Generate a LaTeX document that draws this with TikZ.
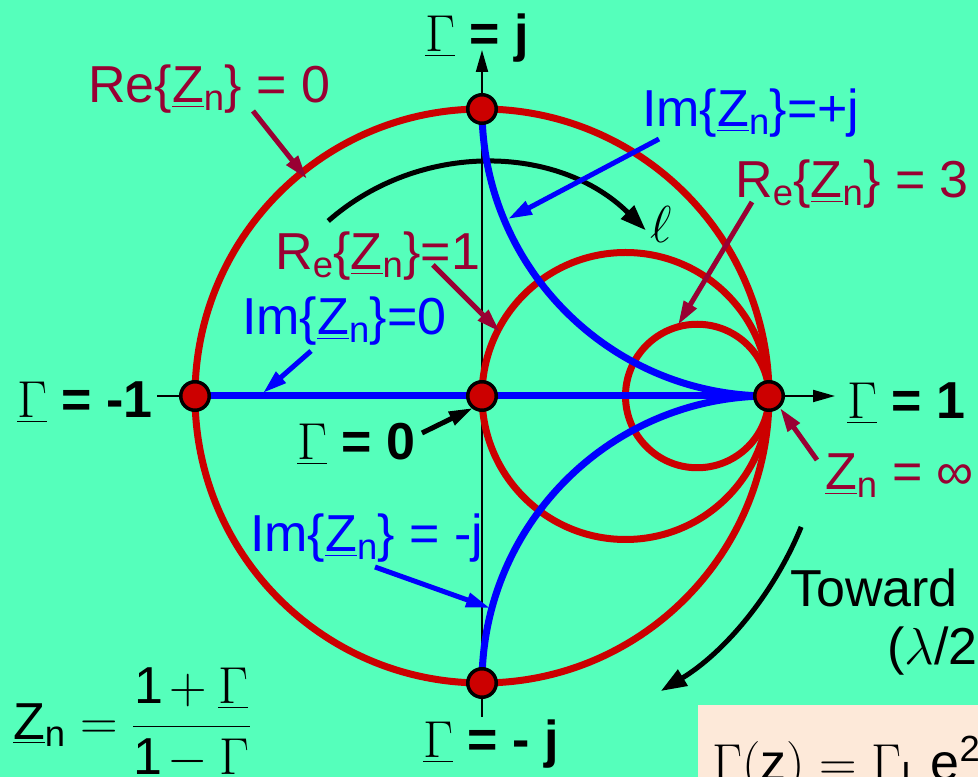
\documentclass[tikz,border=0pt]{standalone}
\usepackage{fix-cm}
\usepackage{amsmath}
\usepackage{fontspec}
\setmainfont{Liberation Sans}
\usepackage{tikz}
\usetikzlibrary{arrows.meta,calc}
\definecolor{smbg}{RGB}{85,255,187}
\definecolor{smred}{RGB}{204,0,0}
\definecolor{smwine}{RGB}{153,0,51}
\definecolor{smblue}{RGB}{0,0,255}
\definecolor{smpeach}{RGB}{253,233,217}
\newcommand{\Zn}{\underline{Z}\textsubscript{n}}
\newcommand{\Gu}{$\underline{\Gamma}$}
\tikzset{
  rcirc/.style={draw=smred, line width=7pt},
  xarc/.style={draw=smblue, line width=7pt},
  dot/.style={circle, fill=smred, draw=black, line width=3.5pt,
    minimum size=28.5pt, inner sep=0pt},
  axis/.style={draw=black, line width=2pt},
  axarr/.style={axis, -{Triangle[length=22pt,width=12pt]}},
  larr/.style={draw=black, line width=5pt, -{Triangle[length=26pt,width=18pt]}},
  pin/.style={line width=5pt, -{Triangle[length=24pt,width=14pt]}},
  lbl/.style={font=\fontsize{52}{60}\selectfont, inner sep=0pt, anchor=base west},
  wine/.style={lbl, text=smwine},
  blu/.style={lbl, text=smblue}
}
\begin{document}
\begin{tikzpicture}[x=1pt,y=1pt]
  \clip (0,0) rectangle (978,777);
  \fill[smbg] (0,0) rectangle (978,777);
  \coordinate (O) at (482,381);
  % axes
  \coordinate (axb) at (482,60);
  \coordinate (axt) at (482,727);
  \coordinate (axl) at (157,381);
  \coordinate (axr) at (835,381);
  \draw[axarr] (axb) -- (axt);
  \draw[axarr] (axl) -- (axr);
  % rotation arcs
  \draw[larr] ($(O)+(131.3:233)$) arc[start angle=131.3, end angle=45.3, radius=233];
  \draw[larr] ($(O)+(-22.3:345)$) arc[start angle=-22.3, end angle=-58.8, radius=345];
  % resistance circles
  \draw[rcirc] (O) circle[radius=287];
  \draw[rcirc] ($(O)+(143.5,0)$) circle[radius=143.5];
  \draw[rcirc] ($(O)+(215.25,0)$) circle[radius=71.75];
  % reactance arcs
  \draw[xarc] ($(O)+(-287,0)$) -- ($(O)+(287,0)$);
  \draw[xarc] ($(O)+(0,287)$) arc[start angle=180, end angle=270, radius=287];
  \draw[xarc] ($(O)+(0,-287)$) arc[start angle=180, end angle=90, radius=287];
  % points
  \node[dot] (gm1) at ($(O)+(-287,0)$) {};
  \node[dot] (g0) at (O) {};
  \node[dot] (g1) at ($(O)+(287,0)$) {};
  \node[dot] (gj) at ($(O)+(0,287)$) {};
  \node[dot] (gmj) at ($(O)+(0,-287)$) {};
  % labels
  \node[lbl] (lj) at (425,725) {\Gu{} \textbf{= j}};
  \node[lbl] (lmj) at (423,19) {\Gu{} \textbf{= - j}};
  \node[lbl] (lm1) at (17,359) {\Gu{} \textbf{= -1}};
  \node[lbl] (lp1) at (847,358) {\Gu{} \textbf{= 1}};
  \node[lbl] (l0) at (297,317) {\Gu{} \textbf{= 0}};
  \node[wine] (re0) at (88,674) {Re\{\Zn\} = 0};
  \node[blu] (imp) at (642,650) {Im\{\Zn\}=+j};
  \node[wine] (re3) at (735,579) {R\textsubscript{e}\{\Zn\} = 3};
  \node[wine] (re1) at (275,507) {R\textsubscript{e}\{\Zn\}=1};
  \node[blu] (im0) at (242,442) {Im\{\Zn\}=0};
  \node[blu] (imm) at (250,225) {Im\{\Zn\} = -j};
  \node[wine] (zinf) at (825,287) {\Zn{} = ∞};
  \node[lbl] (ell) at (650,534) {$\ell$};
  \node[lbl] (tow) at (790,170) {Toward};
  \node[lbl] (lam) at (887,112) {($\lambda$/2};
  \node[lbl, anchor=west] (zform) at (13,53)
    {$\displaystyle \underline{\text{Z}}_{\text{n}} = \frac{\text{1}\mkern2mu{+}\mkern4mu\underline{\Gamma}}{\text{1}\mkern2mu{-}\mkern4mu\underline{\Gamma}}$};
  \fill[smpeach] (698,0) rectangle (978,72);
  \node[lbl] (gz) at (712,-3) {$\Gamma(\text{z}) = \Gamma_{\text{L}}\,\text{e}^{\text{2}}$};
  % pointers
  \coordinate (p0s) at (253,666);  \coordinate (p0e) at (307,598);
  \coordinate (pjs) at (659,638);  \coordinate (pje) at (508,558);
  \coordinate (p3s) at (752,575);  \coordinate (p3e) at (678,452);
  \coordinate (p1s) at (433,512);  \coordinate (p1e) at (500,445);
  \coordinate (pis) at (311,426);  \coordinate (pie) at (263,384);
  \coordinate (pgs) at (422,344);  \coordinate (pge) at (473,369);
  \coordinate (pzs) at (817,317);  \coordinate (pze) at (780,369);
  \coordinate (pms) at (375,210);  \coordinate (pme) at (490,169);
  \draw[pin, smwine] (p0s) -- (p0e);
  \draw[pin, smblue] (pjs) -- (pje);
  \draw[pin, smwine] (p3s) -- (p3e);
  \draw[pin, smwine] (p1s) -- (p1e);
  \draw[pin, smblue] (pis) -- (pie);
  \draw[pin, black] (pgs) -- (pge);
  \draw[pin, smwine] (pzs) -- (pze);
  \draw[pin, smblue] (pms) -- (pme);
\end{tikzpicture}
\end{document}
